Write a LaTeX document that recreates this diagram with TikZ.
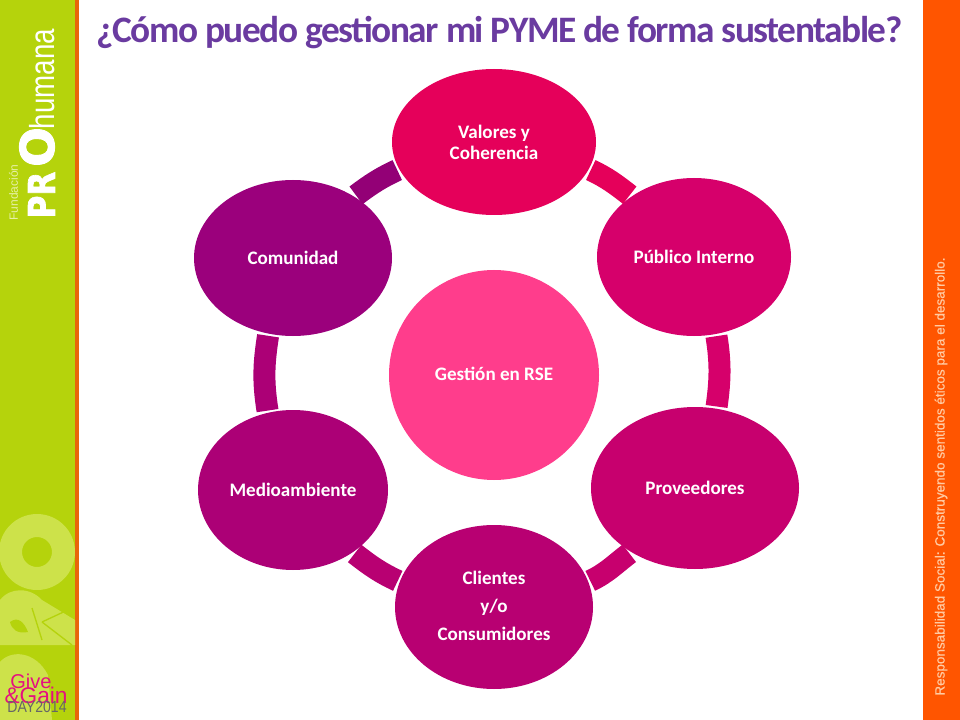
\documentclass[tikz,border=0pt]{standalone}
\usepackage{fontspec}
\setmainfont{Carlito}
\newfontfamily\arialfont{Liberation Sans}
\newfontfamily\lemafont[FakeBold=0.4]{Liberation Sans}
\newfontfamily\heavyfont[FakeBold=2]{DejaVu Sans Bold}
\newfontfamily\titlefont[LetterSpace=-4]{Carlito Bold}
\usetikzlibrary{positioning, shapes.geometric}
\definecolor{barGreen}{HTML}{B5D30C}
\definecolor{paleGreen}{HTML}{CDE24A}
\definecolor{logoGreen}{HTML}{E6F0A6}
\definecolor{barOrange}{HTML}{E8650A}
\definecolor{sideOrange}{HTML}{FF5500}
\definecolor{sidePeach}{HTML}{FFCBA3}
\definecolor{titlePurple}{HTML}{6A3BA0}
\definecolor{giveMagenta}{HTML}{E5107F}
\definecolor{dayGrey}{HTML}{666666}
\definecolor{hubPink}{HTML}{FF3D8C}
\definecolor{valoresCol}{HTML}{E5005A}
\definecolor{publicoCol}{HTML}{D6006B}
\definecolor{proveedoresCol}{HTML}{C7006E}
\definecolor{clientesCol}{HTML}{B80072}
\definecolor{medioCol}{HTML}{AC0076}
\definecolor{comunidadCol}{HTML}{9B007C}
\tikzset{main node/.style={ellipse, inner sep=0pt, text=white, align=center, font=\bfseries\fontsize{14.3}{15.7}\selectfont},}
\tikzset{ring/.style={draw=#1, line width=16.5pt, shorten >=1.5pt, shorten <=1.5pt},}
\begin{document}
\begin{tikzpicture}[x=0.75pt, y=0.75pt]
	\useasboundingbox (0,0) rectangle (960,-720);
	% Side bars
	\fill[barGreen] (0,0) rectangle (75,-720);
	\fill[barOrange] (75,0) rectangle (79,-720);
	\fill[sideOrange] (923,0) rectangle (960,-720);
	% Faded letters
	\fill[paleGreen, even odd rule] (37,-552) circle (38) (37,-552) circle (15);
	\fill[paleGreen] (0,-600) .. controls (10,-587) and (30,-587) .. (42,-600) -- (75,-620) -- (75,-645) -- (0,-645) -- cycle;
	\fill[paleGreen] (0,-662) .. controls (10,-650) and (35,-650) .. (48,-675) -- (52,-720) -- (0,-720) -- cycle;
	\draw[barGreen, line width=1pt] (32,-608) -- (42,-640) (42,-622) -- (72,-645) (42,-622) -- (72,-608);
	\fill[barGreen] (10,-622) .. controls (18,-616) and (24,-622) .. (28,-632) .. controls (18,-634) and (12,-630) .. (10,-622) -- cycle;
	% Logo
	\node[rotate=90, text=logoGreen, inner sep=0pt] (fundacion) at (13.5,-192.5) {\arialfont\fontsize{9}{10}\selectfont Fundación};
	\node[rotate=90, text=white, inner sep=0pt] (pr) at (41.5,-195) {\heavyfont\fontsize{27.7}{28}\selectfont\scalebox{0.84}[1]{PR}};
	\node[rotate=90, text=white, inner sep=0pt] (o) at (37,-147) {\heavyfont\fontsize{35}{36}\selectfont O};
	\node[rotate=90, text=white, inner sep=0pt] (humana) at (42.5,-79) {\arialfont\fontsize{26}{26}\selectfont\scalebox{0.8}[1]{humana}};
	\node[text=giveMagenta, inner sep=0pt] (give) at (31,-681) {\arialfont\fontsize{15}{15}\selectfont Give};
	\node[text=giveMagenta, inner sep=0pt] (gain) at (36,-695) {\arialfont\fontsize{17}{17}\selectfont \&Gain};
	\node[text=dayGrey, inner sep=0pt] (day) at (37,-706.5) {\arialfont\fontsize{12}{12}\selectfont\scalebox{0.88}[1]{DAY2014}};
	% Title and side text
	\node[text=titlePurple, inner sep=0pt] (title) at (499.5,-33) {\titlefont\fontsize{28}{30}\selectfont ¿Cómo puedo gestionar mi PYME de forma sustentable?};
	\node[rotate=90, text=sidePeach, inner sep=0pt] (lema) at (941,-476.5) {\lemafont\fontsize{10.13}{12}\selectfont Responsabilidad Social: Construyendo sentidos éticos para el desarrollo.};
	% Grids
	\node[main node, fill=hubPink, minimum width=157.5pt, minimum height=157.5pt] (hub) at (494,-375) {\raisebox{2pt}{Gestión en RSE}};
	\node[main node, fill=valoresCol, minimum width=153pt, minimum height=109.5pt, on grid, above=174.75pt of hub] (valores) {Valores y\\Coherencia};
	\node[main node, fill=publicoCol, minimum width=145.5pt, minimum height=118.5pt, on grid, below right=86.25pt and 150pt of valores] (publico) {Público Interno};
	\node[main node, fill=proveedoresCol, minimum width=156pt, minimum height=121.5pt, on grid, below right=173.25pt and 0.75pt of publico] (proveedores) {Proveedores};
	\node[main node, fill=clientesCol, minimum width=148.5pt, minimum height=123pt, on grid, below left=89.25pt and 150.75pt of proveedores, font=\bfseries\fontsize{14.3}{21}\selectfont] (clientes) {\raisebox{1.5pt}{Clientes}\\\raisebox{1.5pt}{y/o}\\\raisebox{1.5pt}{Consumidores}};
	\node[main node, fill=medioCol, minimum width=142.5pt, minimum height=120pt, on grid, above left=87.75pt and 150.75pt of clientes] (medio) {Medioambiente};
	\node[main node, fill=comunidadCol, minimum width=148.5pt, minimum height=117pt, on grid, above=174pt of medio] (comunidad) {Comunidad};
	% Paths
	\path
	(valores.-16) edge[out=-25, in=142, ring=valoresCol] (publico.136)
	(publico.-74) edge[out=-81, in=82, ring=publicoCol] (proveedores.75)
	(proveedores.225) edge[out=-143, in=25, ring=proveedoresCol] (clientes.15)
	(clientes.165) edge[out=155, in=-38, ring=clientesCol] (medio.-46)
	(medio.108) edge[out=99, in=-99, ring=medioCol] (comunidad.-108)
	(comunidad.45) edge[out=37, in=205, ring=comunidadCol!95!black] (valores.196);
\end{tikzpicture}
\end{document}
